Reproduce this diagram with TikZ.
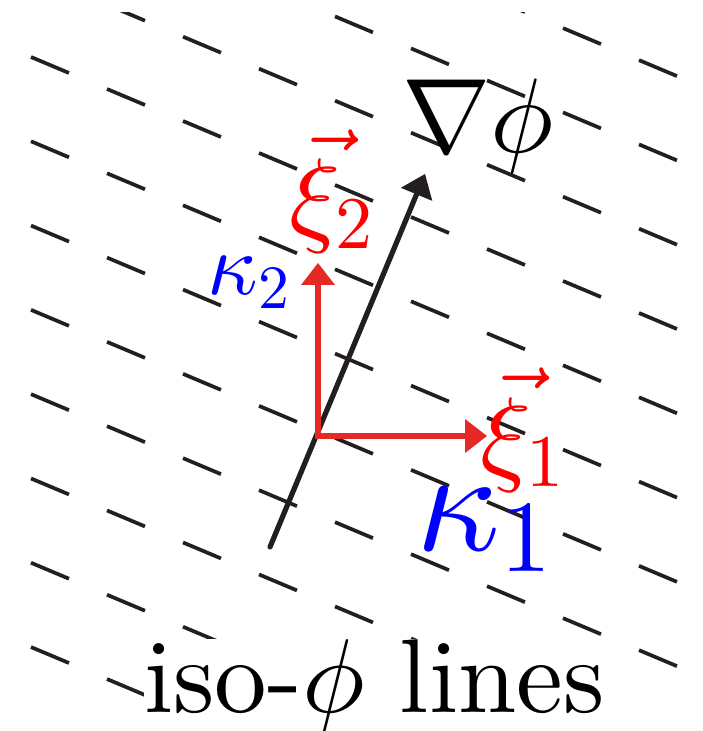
\documentclass[tikz,border=0pt]{standalone}
\usepackage{amsmath}
\usepackage{tikz}
\usetikzlibrary{arrows.meta}
\DeclareFontShape{OT1}{cmr}{m}{n}{<->cmr10}{}
\DeclareFontShape{OML}{cmm}{m}{it}{<->cmmi10}{\skewchar\font127 }
\DeclareFontShape{OMS}{cmsy}{m}{n}{<->cmsy10}{\skewchar\font48 }
\DeclareFontShape{OMX}{cmex}{m}{n}{<->cmex10}{}
\font\isofont="[lmroman10-regular]" at 52.5pt
\definecolor{VecRed}{HTML}{E52A25}
\definecolor{IsoGrey}{HTML}{231F20}

\begin{document}
\begin{tikzpicture}[x=0.5pt,y=-0.5pt,
    >={Triangle[length=11pt,width=17pt,line width=0pt]}]
  \tikzstyle{isoline}=[draw=IsoGrey,line width=1.85pt,
    dash pattern=on 20.6pt off 20.63pt]
  \tikzstyle{gradarrow}=[->,draw=IsoGrey,fill=IsoGrey,line width=2.6pt,line cap=round]
  \tikzstyle{basisarrow}=[->,draw=VecRed,fill=VecRed,line width=3.4pt,line cap=rect]
  \tikzstyle{biglabel}=[inner sep=0pt,anchor=base west,
    font=\fontsize{53}{60}\selectfont]
  \useasboundingbox (0,0) rectangle (702,731);
  % iso-phi lines
  \begin{scope}
    \clip (0,13) rectangle (702,731);
    \foreach \j in {-3,...,7}
      \draw[isoline] (31,57+84.29*\j) -- ++(684,288);
  \end{scope}
  \coordinate (o) at (318,436);
  \coordinate (g0) at (270,547);
  \coordinate (g1) at (425,174);
  \coordinate (e1) at (487,436);
  \coordinate (e2) at (318,263);
  \draw[gradarrow] (g0) -- (g1);
  \draw[basisarrow] (o) -- (e1);
  \draw[basisarrow] (o) -- (e2);
  \node[biglabel] (grad) at (402,153) {$\nabla\phi$};
  \node[biglabel,text=red] (xi2) at (289,233) {$\vec{\xi}_2$};
  \node[biglabel,text=red] (xi1) at (480,471) {$\vec{\xi}_1$};
  \node[biglabel,text=blue,font=\fontsize{73}{80}\selectfont] (k1) at (416,550) {$\kappa_1$};
  \node[biglabel,text=blue,font=\fontsize{44}{50}\selectfont] (k2) at (207,295) {$\kappa_2$};
  \node[biglabel,fill=white,font=\fontsize{52.5}{60}\selectfont\isofont] (iso) at (144,712) {iso-$\phi$ lines};
\end{tikzpicture}
\end{document}
